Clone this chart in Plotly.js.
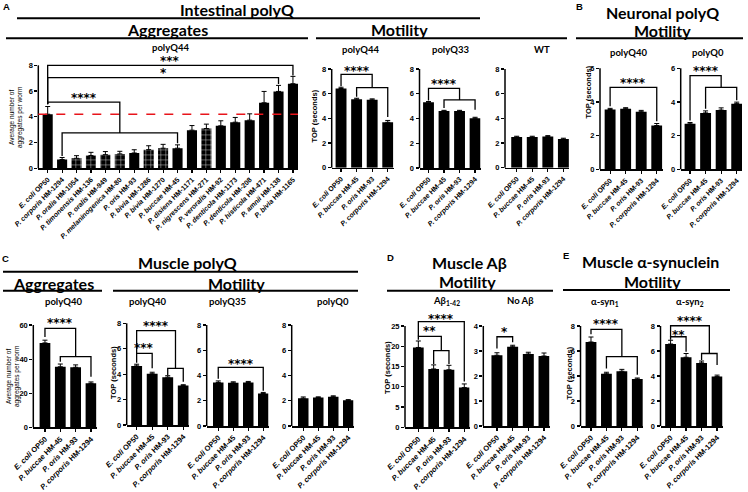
<!DOCTYPE html>
<html><head><meta charset="utf-8">
<script src="https://cdn.plot.ly/plotly-3.0.1.min.js"></script>
<style>html,body{margin:0;padding:0;background:#fff}#chart{width:748px;height:492px}</style>
</head><body><div id="chart"></div>
<script>
// ---------------- DATA ----------------
const intestinalStrains = [
  "<i>E. coli</i> OP50", "<i>P. corporis</i> HM-1294", "<i>P. oralis</i> HM-1054", "<i>P. timonensis</i> HM-136",
  "<i>P. oralis</i> HM-949", "<i>P. melaninogenica</i> HM-80", "<i>P. oris</i> HM-93", "<i>P. bivia</i> HM-1286",
  "<i>P. bivia</i> HM-1270", "<i>P. buccae</i> HM-45", "<i>P. disiens</i> HM-1171", "<i>P. nigrescens</i> HM-271",
  "<i>P. veroralis</i> HM-92", "<i>P. denticola</i> HM-1173", "<i>P. denticola</i> HM-208", "<i>P. histicola</i> HM-471",
  "<i>P. amnii</i> HM-138", "<i>P. bivia</i> HM-1165"];
const intestinalAgg    = [4.2, 0.68, 0.78, 0.99, 1.06, 1.12, 1.19, 1.45, 1.56, 1.56, 2.96, 3.09, 3.3, 3.58, 3.74, 5.09, 5.97, 6.57];
const intestinalAggSem = [0.6, 0.16, 0.2, 0.25, 0.24, 0.2, 0.25, 0.3, 0.3, 0.26, 0.36, 0.34, 0.39, 0.37, 0.49, 0.88, 0.47, 0.57];
const intestinalHatched = [false, false, true, true, true, true, false, true, true, false, false, true, false, false, false, false, false, false];

const fourStrains = ["<i>E. coli</i> OP50", "<i>P. buccae</i> HM-45", "<i>P. oris</i> HM-93", "<i>P. corporis</i> HM-1294"];

const intQ44 = [6.42, 5.55, 5.5, 3.68],  intQ44Sem = [0.1, 0.08, 0.08, 0.15];
const intQ33 = [5.32, 4.6, 4.6, 4.02],   intQ33Sem = [0.05, 0.06, 0.06, 0.08];
const intWT  = [2.48, 2.48, 2.52, 2.32], intWTSem  = [0.07, 0.07, 0.08, 0.07];
const neuQ40 = [3.55, 3.6, 3.42, 2.6],   neuQ40Sem = [0.07, 0.06, 0.08, 0.12];
const neuQ0  = [2.7, 3.35, 3.52, 3.9],   neuQ0Sem  = [0.08, 0.12, 0.13, 0.09];
const musAgg = [49.5, 35.5, 35.2, 25.8], musAggSem = [1.6, 1.6, 1.4, 0.8];
const musQ40 = [4.65, 4.03, 3.76, 3.1],  musQ40Sem = [0.13, 0.12, 0.12, 0.07];
const musQ35 = [3.45, 3.42, 3.45, 2.57], musQ35Sem = [0.12, 0.08, 0.08, 0.09];
const musQ0  = [2.2, 2.25, 2.32, 2.03],  musQ0Sem  = [0.1, 0.06, 0.07, 0.06];
const abeta  = [19.7, 14.4, 14.2, 9.8],  abetaSem  = [1.6, 1.0, 1.1, 0.9];
const noAbeta= [2.83, 3.17, 2.88, 2.8],  noAbetaSem= [0.1, 0.06, 0.07, 0.12];
const syn1   = [6.72, 4.18, 4.38, 3.76], syn1Sem   = [0.4, 0.12, 0.15, 0.08];
const syn2   = [6.56, 5.5, 5.05, 3.95],  syn2Sem   = [0.3, 0.3, 0.15, 0.12];

// significance brackets: [from bar, to bar, level, left leg end, right leg end]; stars: [x, y, label]
const brA   = [[0,17,8.0,5.0,7.2],[0,16,7.04,5.0,6.55],[0,5,5.14,4.95,2.75],[1,9,2.75,0.95,1.95]];
const stA   = [[8.5,8.57,"***"],[8,7.6,"*"],[2.5,5.66,"****"]];
const brQ44 = [[0,2,7.57,6.6,6.49],[1,3,6.49,5.76,4.1]];        const stQ44 = [[1,8.05,"****"]];
const brQ33 = [[0,2,6.43,5.45,5.5],[1,3,5.5,4.85,4.7]];         const stQ33 = [[1,7.03,"****"]];
const brN40 = [[0,3,4.87,3.75,2.85]];                            const stN40 = [[1.5,5.3,"****"]];
const brN0  = [[0,2,5.56,2.9,4.87],[1,3,4.87,3.6,4.1]];          const stN0  = [[1,6.0,"****"]];
const brMA  = [[0,2,58,53,41.4],[1,3,41.4,38.5,29.7]];           const stMA  = [[1,62.9,"****"]];
const brM40 = [[0,2.5,7.42,5.64,4.46],[2,3,4.46,3.93,3.41],[0,1,5.64,4.9,4.46]];
const stM40 = [[1.25,8.0,"****"],[0.5,6.3,"***"]];
const brM35 = [[0,3,4.64,3.75,2.8]];                             const stM35 = [[1.5,5.1,"****"]];
const brAb  = [[0,3,26.1,22.45,11.3],[0,1.5,22.45,21.6,18.9],[1,2,18.9,15.6,15.6]];
const stAb  = [[1.5,27.5,"****"],[0.7,24.5,"**"]];
const brNAb = [[0,1,3.57,3.1,3.35]];                             const stNAb = [[0.5,3.87,"*"]];
const brS1  = [[0,2,7.73,7.33,5.55],[1,3,5.55,4.6,4.1]];         const stS1  = [[1,8.35,"****"]];
const brS2  = [[0,2.5,8.02,7.14,5.8],[0,1,7.14,6.9,5.94],[2,3,5.8,5.28,4.88]];
const stS2  = [[1.25,8.6,"****"],[0.5,7.5,"**"]];

// ---------------- LAYOUT (pixel geometry) ----------------
const W = 748, H = 492;
const PX = p => p / W, PY = p => 1 - p / H;
const TICKF = "Liberation Sans, Arial, sans-serif";
const HEADF = "Lato, sans-serif";

const panels = [
  {cats:intestinalStrains, v:intestinalAgg, e:intestinalAggSem, hatch:intestinalHatched, x0:38.3, x1:298, xmin:-0.65, xmax:17.35, zero:168.3, topPx:65.3, topVal:8, dt:2, rtop:9.0, ts:7, br:brA, st:stA, refline:true},
  {cats:fourStrains, v:intQ44, e:intQ44Sem, x0:331.7, x1:393.5, xmin:-0.6, xmax:3.37, zero:167.7, topPx:69, topVal:8, dt:2, rtop:8.5, ts:7, br:brQ44, st:stQ44},
  {cats:fourStrains, v:intQ33, e:intQ33Sem, x0:419.5, x1:480.5, xmin:-0.58, xmax:3.35, zero:168, topPx:69, topVal:8, dt:2, rtop:8.3, ts:7, br:brQ33, st:stQ33},
  {cats:fourStrains, v:intWT,  e:intWTSem,  x0:505, x1:569, xmin:-0.75, xmax:3.36, zero:167.7, topPx:69, topVal:8, dt:2, rtop:8.3, ts:7, br:[], st:[]},
  {cats:fourStrains, v:neuQ40, e:neuQ40Sem, x0:600, x1:662.5, xmin:-0.65, xmax:3.37, zero:169.3, topPx:68.3, topVal:6, dt:2, rtop:6.3, ts:7, br:brN40, st:stN40},
  {cats:fourStrains, v:neuQ0,  e:neuQ0Sem,  x0:680.7, x1:742, xmin:-0.6, xmax:3.34, zero:169.3, topPx:68.3, topVal:6, dt:2, rtop:6.3, ts:7, br:brN0, st:stN0},
  {cats:fourStrains, v:musAgg, e:musAggSem, x0:33.3, x1:96.5, xmin:-0.76, xmax:3.36, zero:427.3, topPx:325, topVal:60, dt:20, rtop:65, ts:7.5, br:brMA, st:stMA},
  {cats:fourStrains, v:musQ40, e:musQ40Sem, x0:126.7, x1:188.7, xmin:-0.64, xmax:3.35, zero:425, topPx:323.3, topVal:8, dt:2, rtop:8.5, ts:7.5, br:brM40, st:stM40},
  {cats:fourStrains, v:musQ35, e:musQ35Sem, x0:206.7, x1:268.5, xmin:-0.77, xmax:3.35, zero:426, topPx:325, topVal:8, dt:2, rtop:8.3, ts:7.5, br:brM35, st:stM35},
  {cats:fourStrains, v:musQ0,  e:musQ0Sem,  x0:291.7, x1:353.5, xmin:-0.77, xmax:3.35, zero:426, topPx:325, topVal:8, dt:2, rtop:8.3, ts:7.5, br:[], st:[]},
  {cats:fourStrains, v:abeta,  e:abetaSem,  x0:405, x1:469.5, xmin:-0.87, xmax:3.34, zero:427.3, topPx:326, topVal:25, dt:5, rtop:28.5, ts:7.5, br:brAb, st:stAb},
  {cats:fourStrains, v:noAbeta,e:noAbetaSem,x0:483.3, x1:549.5, xmin:-0.87, xmax:3.35, zero:426, topPx:326, topVal:4, dt:1, rtop:4.2, ts:7.5, br:brNAb, st:stNAb},
  {cats:fourStrains, v:syn1,   e:syn1Sem,   x0:580.5, x1:643, xmin:-0.68, xmax:3.37, zero:426, topPx:326, topVal:8, dt:2, rtop:8.7, ts:7.5, br:brS1, st:stS1},
  {cats:fourStrains, v:syn2,   e:syn2Sem,   x0:660.5, x1:722.5, xmin:-0.65, xmax:3.35, zero:426, topPx:326, topVal:8, dt:2, rtop:9.0, ts:7.5, br:brS2, st:stS2}
];

const traces = [];
const layout = {
  width: W, height: H, margin: {l:0, r:0, t:0, b:0},
  paper_bgcolor: "#fff", plot_bgcolor: "rgba(0,0,0,0)",
  showlegend: false, bargap: 0.3,
  shapes: [], annotations: []
};

panels.forEach((p, i) => {
  const n = i + 1;
  const xid = n === 1 ? "x" : "x" + n, yid = n === 1 ? "y" : "y" + n;
  const xkey = n === 1 ? "xaxis" : "xaxis" + n, ykey = n === 1 ? "yaxis" : "yaxis" + n;
  const idx = p.cats.map((c, j) => j);
  const scale = (p.zero - p.topPx) / p.topVal;
  const marker = {color: "#000", line: {width: 0}};
  if (p.hatch) {
    marker.pattern = {shape: p.hatch.map(h => h ? "+" : ""), fgcolor: "#cfcfcf", bgcolor: "#000", size: 5, solidity: 0.18, fillmode: "replace"};
  }
  traces.push({
    type: "bar", x: idx, y: p.v, xaxis: xid, yaxis: yid, width: 0.7, marker,
    error_y: {type: "data", symmetric: false, array: p.e, arrayminus: p.e.map(() => 0), color: "#000", thickness: 1, width: 2.5},
    hoverinfo: "skip"
  });
  const tv = [];
  for (let t = 0; t <= p.topVal + 1e-9; t += p.dt) tv.push(t);
  layout[xkey] = {
    domain: [PX(p.x0), PX(p.x1)], range: [p.xmin, p.xmax], anchor: yid,
    tickvals: idx, ticktext: p.cats, tickangle: -45,
    ticks: "outside", ticklen: 3, tickwidth: 1.2, tickcolor: "#000",
    showline: true, linewidth: 1.5, linecolor: "#000",
    showgrid: false, zeroline: false, automargin: false, fixedrange: true,
    tickfont: {family: TICKF, size: p.ts, color: "#000", weight: "bold"}
  };
  layout[ykey] = {
    domain: [PY(p.zero), PY(p.zero - p.rtop * scale)], range: [0, p.rtop], anchor: xid,
    tickvals: tv, ticks: "outside", ticklen: 3, tickwidth: 1.2, tickcolor: "#000",
    showline: false, showgrid: false, zeroline: false, automargin: false, fixedrange: true,
    tickfont: {family: TICKF, size: 7.5, color: "#000", weight: "bold"}
  };
  // y spine up to the top tick
  layout.shapes.push({type: "line", xref: xid + " domain", yref: yid + " domain", x0: 0, x1: 0, y0: 0, y1: p.topVal / p.rtop, line: {color: "#000", width: 1.5}});
  if (p.refline) {
    layout.shapes.push({type: "line", xref: xid + " domain", yref: yid, x0: 0, x1: 1, y0: p.v[0], y1: p.v[0], line: {color: "#e8141b", width: 1.6, dash: "dash"}, layer: "above"});
  }
  p.br.forEach(b => {
    layout.shapes.push({type: "path", xref: xid, yref: yid,
      path: `M ${b[0]},${b[3]} L ${b[0]},${b[2]} L ${b[1]},${b[2]} L ${b[1]},${b[4]}`,
      line: {color: "#000", width: 1.3}});
  });
  p.st.forEach(s => {
    layout.annotations.push({xref: xid, yref: yid, x: s[0], y: s[1], text: s[2], showarrow: false,
      xanchor: "center", yanchor: "middle", yshift: -2.8,
      font: {family: "DejaVu Sans", size: 12, color: "#000000", weight: "bold"}});
  });
});

// headers and labels
function txt(text, x, y, size, family, extra) {
  layout.annotations.push(Object.assign({xref: "paper", yref: "paper", x: PX(x), y: PY(y), text, showarrow: false,
    xanchor: "center", yanchor: "middle", font: {family, size, color: "#000", weight: "bold"}}, extra || {}));
}
function hline(x0, x1, y) {
  layout.shapes.push({type: "line", xref: "paper", yref: "paper", x0: PX(x0), x1: PX(x1), y0: PY(y), y1: PY(y), line: {color: "#000", width: 2}});
}
const L = TICKF;
// panel letters
txt("A", 6, 6, 9.5, L); txt("B", 579, 6, 9.5, L); txt("C", 5, 258, 9.5, L); txt("D", 390, 257, 9.5, L); txt("E", 566, 255, 9.5, L);
// A
txt("Intestinal polyQ", 237, 10, 16, HEADF); hline(17, 480, 18.3);
txt("Aggregates", 167, 29, 16, HEADF); hline(6, 308, 38.3);
txt("Motility", 399, 29, 16, HEADF); hline(316, 567, 38.3);
txt("polyQ44", 170, 47, 9.5, HEADF);
txt("polyQ44", 360, 49, 9.5, HEADF); txt("polyQ33", 450, 49, 9.5, HEADF); txt("WT", 542, 49, 9.5, HEADF);
// B
txt("Neuronal polyQ", 662, 13, 16, HEADF); txt("Motility", 662, 31, 16, HEADF); hline(576, 743, 38.3);
txt("polyQ40", 628, 52, 9.5, HEADF); txt("polyQ0", 708, 52, 9.5, HEADF);
// C
txt("Muscle polyQ", 187, 262.7, 16, HEADF); hline(3, 358, 271.7);
txt("Aggregates", 53, 283, 16, HEADF); hline(3, 102, 290.7);
txt("Motility", 236, 283, 16, HEADF); hline(113, 358, 290.7);
txt("polyQ40", 63, 301, 9.5, HEADF); txt("polyQ40", 147, 301, 9.5, HEADF);
txt("polyQ35", 227, 301, 9.5, HEADF); txt("polyQ0", 333, 301, 9.5, HEADF);
// D
txt("Muscle A\u03b2", 470, 262.7, 16, HEADF); txt("Motility", 467, 281.7, 16, HEADF); hline(387, 553, 290.7);
txt("A\u03b2<sub>1-42</sub>", 447, 300.7, 9.5, HEADF); txt("No A\u03b2", 520, 300.7, 9.5, HEADF);
// E
txt("Muscle \u03b1-synuclein", 650, 261.7, 16, HEADF); txt("Motility", 652, 281.7, 16, HEADF); hline(563, 730, 290);
txt("\u03b1-syn<sub>1</sub>", 605, 301.7, 9.5, HEADF); txt("\u03b1-syn<sub>2</sub>", 690, 301.7, 9.5, HEADF);
// y-axis titles
const yt = {textangle: -90};
txt("Average number of<br>aggregates per worm", 16, 118, 6.5, L, {textangle: -90, font: {family: L, size: 6.5, color: "#000"}});
txt("TOP (seconds)", 313.5, 116, 7.5, L, yt);
txt("TOP (seconds)", 587.5, 92, 7.5, L, yt);
txt("Average number of<br>aggregates per worm", 13, 377, 6.5, L, {textangle: -90, font: {family: L, size: 6.5, color: "#000"}});
txt("TOP (seconds)", 113, 373, 7.5, L, yt);
txt("TOP (seconds)", 387, 367, 7.5, L, yt);
txt("TOP (seconds)", 568.5, 373, 7.5, L, yt);

Plotly.newPlot("chart", traces, layout, {staticPlot: true, displayModeBar: false});
</script>
</body></html>
